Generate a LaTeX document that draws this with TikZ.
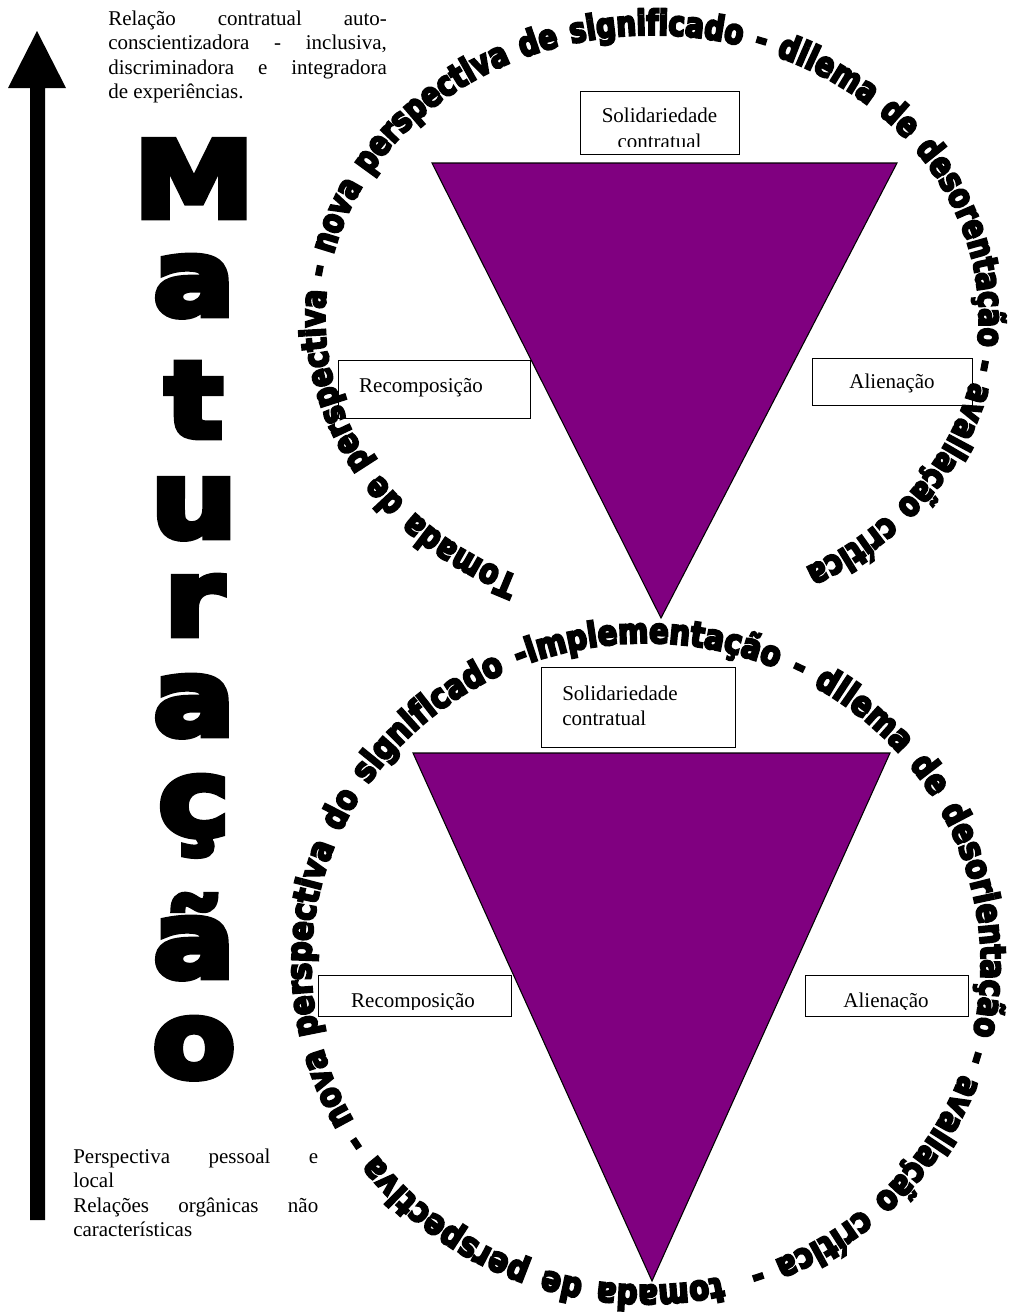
\documentclass[tikz,border=0pt]{standalone}
\usepackage{fontspec}
\setmainfont{Liberation Serif}
\newfontfamily\ringfont[FakeStretch=0.8,FakeBold=6]{DejaVu Sans Bold}
\newfontfamily\ringfontB[FakeStretch=0.84,FakeBold=6]{DejaVu Sans Bold}
\newfontfamily\matfont[FakeStretch=1.15,FakeBold=6.5]{DejaVu Sans Bold}
\usetikzlibrary{decorations.text}
\definecolor{tripurple}{RGB}{128,0,128}
\begin{document}
\begin{tikzpicture}[x=0.75pt,y=-0.75pt,
  tri/.style={fill=tripurple,draw=black,line width=0.8pt,line join=miter},
  labelbox/.style={draw=black,fill=white,line width=0.9pt,inner sep=0pt,anchor=north west},
  boxtext/.style={inner sep=0pt,anchor=base,font=\fontsize{15.75pt}{18.4pt}\selectfont},
  para/.style={inner sep=0pt,anchor=base west,font=\fontsize{15.75pt}{18.4pt}\selectfont},
  matletter/.style={inner sep=0pt,anchor=base,font=\matfont\fontsize{79pt}{79pt}\selectfont}
]
\useasboundingbox (0,0) rectangle (1015,1314);
\fill[white] (0,0) rectangle (1015,1314);

% big arrow
\fill[black] (30,1220) -- (30,88) -- (8,88) -- (37,31) -- (66,88) -- (45,88) -- (45,1220) -- cycle;

% top paragraph
\node[para] (top1) at (108,25) {\makebox[209pt][s]{Relação contratual auto-}};
\node[para] (top2) at (108,49.5) {\makebox[209pt][s]{conscientizadora - inclusiva,}};
\node[para] (top3) at (108,74) {\makebox[209pt][s]{discriminadora e integradora}};
\node[para] (top4) at (108,98.5) {de experiências.};

% bottom paragraph
\node[para] (bot1) at (73,1163) {\makebox[183.75pt][s]{Perspectiva pessoal e}};
\node[para] (bot2) at (73,1187.5) {local};
\node[para] (bot3) at (73,1212) {\makebox[183.75pt][s]{Relações orgânicas não}};
\node[para] (bot4) at (73,1236.5) {características};

% Maturação
\node[matletter] (m1) at (194,217) {M};
\node[matletter] (m2) at (194,315) {a};
\node[matletter] (m3) at (194,437) {t};
\node[matletter] (m4) at (194,537) {u};
\node[matletter] (m5) at (194,635) {r};
\node[matletter] (m6) at (194,735) {a};
\node[matletter] (m7) at (194,835) {ç};
\node[matletter] (m8) at (194,977) {ã};
\node[matletter] (m9) at (194,1077) {o};

% triangles
\coordinate (ua) at (432,163);
\coordinate (ub) at (897,163);
\coordinate (uc) at (661,618);
\draw[tri] (ua) -- (ub) -- (uc) -- cycle;
\coordinate (la) at (413,753);
\coordinate (lb) at (890,753);
\coordinate (lc) at (652,1281);
\draw[tri] (la) -- (lb) -- (lc) -- cycle;

% upper boxes
\node[labelbox,minimum width=119.25pt,minimum height=47.25pt] (usol) at (580,91) {};
\begin{scope}
\clip (581,92) rectangle (738,146);
\node[boxtext] (usolt1) at (659.5,122) {Solidariedade};
\node[boxtext] (usolt2) at (659.5,148) {contratual};
\end{scope}
\node[labelbox,minimum width=144pt,minimum height=43.5pt] (urec) at (338,360) {};
\node[boxtext] (urect) at (421,392) {Recomposição};
\node[labelbox,minimum width=120pt,minimum height=35.25pt] (ualn) at (812,358) {};
\node[boxtext] (ualnt) at (892,388) {Alienação};

% lower boxes
\node[labelbox,minimum width=145.5pt,minimum height=60pt] (lsol) at (541,667) {};
\node[para] (lsolt1) at (562,700) {Solidariedade};
\node[para] (lsolt2) at (562,725) {contratual};
\node[labelbox,minimum width=144.75pt,minimum height=30.75pt] (lrec) at (318,975) {};
\begin{scope}
\clip (319,976) rectangle (510,1009);
\node[boxtext] (lrect) at (413,1007) {Recomposição};
\end{scope}
\node[labelbox,minimum width=122.25pt,minimum height=30.75pt] (laln) at (805,975) {};
\begin{scope}
\clip (806,976) rectangle (967,1009);
\node[boxtext] (lalnt) at (886,1007) {Alienação};
\end{scope}

% ring texts
\coordinate (ringAstart) at (519.0,576.5);
\coordinate (ringBstart) at (721.4,1276.8);
\path[decorate,decoration={text along path,text align={fit to path stretching spaces},
  text={|\ringfont\fontsize{26pt}{26pt}\selectfont|Tomada de perspectiva - nova perspectiva de significado - dilema de desorentação - avaliação crítica}}]
  (ringAstart) arc[start angle=114,end angle=422,x radius=327,y radius=283];
\path[decorate,decoration={text along path,text align={fit to path stretching spaces},
  text={|\ringfontB\fontsize{26pt}{26pt}\selectfont|tomada de perspectiva - nova perspectiva do significado -implementação - dilema de desorientação - avaliação crítica -}}]
  (ringBstart) arc[start angle=77,end angle=432,x radius=335,y radius=321];
\end{tikzpicture}
\end{document}
